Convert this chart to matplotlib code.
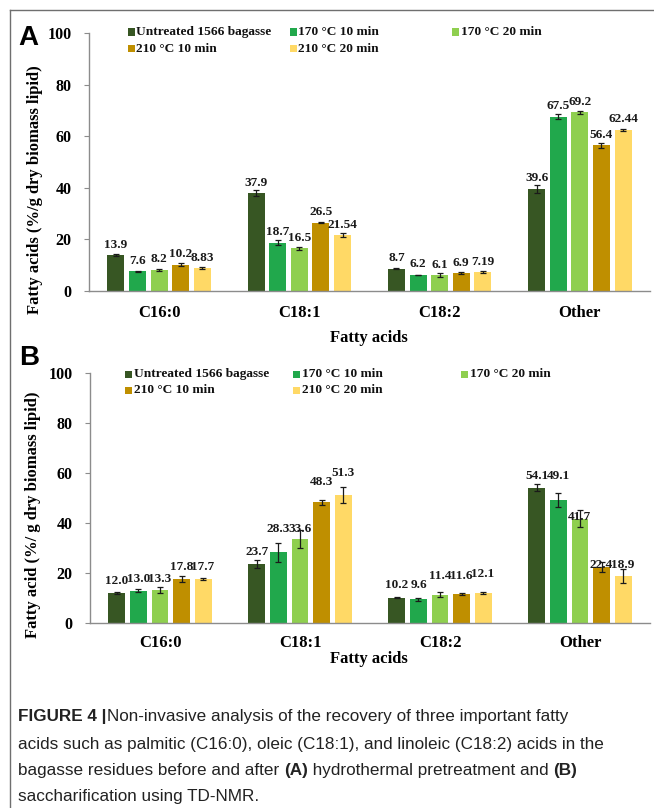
import matplotlib
matplotlib.use("Agg")
import matplotlib.pyplot as plt
from matplotlib.patches import Rectangle
from matplotlib.lines import Line2D
import numpy as np

# ---------------- data ----------------
categories = ["C16:0", "C18:1", "C18:2", "Other"]
series_names = ["Untreated 1566 bagasse", "170 \u00b0C 10 min", "170 \u00b0C 20 min",
                "210 \u00b0C 10 min", "210 \u00b0C 20 min"]
colors = ["#375623", "#21A84C", "#8FCF4F", "#BF8F00", "#FFD966"]

# Panel A (hydrothermal pretreatment)
a_untreated = [13.9, 37.9, 8.7, 39.6]
a_170_10 = [7.6, 18.7, 6.2, 67.5]
a_170_20 = [8.2, 16.5, 6.1, 69.2]
a_210_10 = [10.2, 26.5, 6.9, 56.4]
a_210_20 = [8.83, 21.54, 7.19, 62.44]
a_err_untreated = [0.3, 1.2, 0.3, 1.5]
a_err_170_10 = [0.3, 0.9, 0.15, 1.0]
a_err_170_20 = [0.4, 0.5, 0.7, 0.7]
a_err_210_10 = [0.5, 0.3, 0.4, 1.0]
a_err_210_20 = [0.4, 0.8, 0.4, 0.3]
a_lab_untreated = ["13.9", "37.9", "8.7", "39.6"]
a_lab_170_10 = ["7.6", "18.7", "6.2", "67.5"]
a_lab_170_20 = ["8.2", "16.5", "6.1", "69.2"]
a_lab_210_10 = ["10.2", "26.5", "6.9", "56.4"]
a_lab_210_20 = ["8.83", "21.54", "7.19", "62.44"]

# Panel B (saccharification)
b_untreated = [12.0, 23.7, 10.2, 54.1]
b_170_10 = [13.0, 28.3, 9.6, 49.1]
b_170_20 = [13.3, 33.6, 11.4, 41.7]
b_210_10 = [17.8, 48.3, 11.6, 22.4]
b_210_20 = [17.7, 51.3, 12.1, 18.9]
b_err_untreated = [0.4, 1.5, 0.3, 1.4]
b_err_170_10 = [0.5, 3.8, 0.6, 2.8]
b_err_170_20 = [1.2, 3.5, 1.0, 3.4]
b_err_210_10 = [1.2, 1.0, 0.5, 2.0]
b_err_210_20 = [0.5, 3.2, 0.4, 2.8]
b_lab_untreated = ["12.0", "23.7", "10.2", "54.1"]
b_lab_170_10 = ["13.0", "28.3", "9.6", "49.1"]
b_lab_170_20 = ["13.3", "33.6", "11.4", "41.7"]
b_lab_210_10 = ["17.8", "48.3", "11.6", "22.4"]
b_lab_210_20 = ["17.7", "51.3", "12.1", "18.9"]
# label heights (layout of the value labels in panel B, placed by hand in the original)
b_laby_untreated = [16.7, 28.4, 15.3, 59.0]
b_laby_170_10 = [17.7, 37.6, 15.3, 59.0]
b_laby_170_20 = [17.7, 37.6, 18.7, 42.3]
b_laby_210_10 = [22.4, 56.4, 18.7, 23.2]
b_laby_210_20 = [22.4, 60.0, 19.6, 23.2]

yticks = [0, 20, 40, 60, 80, 100]

# ---------------- figure ----------------
W, H = 654, 808
fig = plt.figure(figsize=(W / 100, H / 100), dpi=100)

SERIF = ["Liberation Serif", "DejaVu Serif"]
SANS = ["Liberation Sans", "DejaVu Sans"]
SPINE = "#8C8C8C"

# frame lines (top and left)
fig.add_artist(Line2D([10 / W, 1.0], [1 - 10 / H, 1 - 10 / H], transform=fig.transFigure,
                      color="#6f6f6f", lw=1.0))
fig.add_artist(Line2D([10 / W, 10 / W], [0.0, 1 - 10 / H], transform=fig.transFigure,
                      color="#6f6f6f", lw=1.0))


def px_axes(left, top, right, bottom):
    return fig.add_axes([left / W, 1 - bottom / H, (right - left) / W, (bottom - top) / H])


def draw_panel(ax, vals, errs, labs, laby, legend_x, legend_y, legend_dy, tick_pad):
    n = len(vals)
    x = np.arange(len(categories))
    step = 0.154
    bw = 0.121
    for i in range(n):
        xi = x + (i - (n - 1) / 2) * step
        ax.bar(xi, vals[i], width=bw, color=colors[i], edgecolor="none", zorder=2)
        ax.errorbar(xi, vals[i], yerr=errs[i], fmt="none", ecolor="#1a1a1a",
                    elinewidth=0.9, capsize=2.3, capthick=0.9, zorder=3)
        for j in range(len(categories)):
            yy = laby[i][j] if laby is not None else vals[i][j] + 4.1
            ax.text(xi[j], yy, labs[i][j], ha="center", va="center",
                    fontsize=9.5, fontweight="bold", family=SERIF, color="#1a1a1a", zorder=4)
    ax.set_xlim(-0.5, len(categories) - 0.5)
    ax.set_ylim(0, 100)
    ax.set_yticks(yticks)
    ax.set_xticks(x)
    ax.set_xticklabels(categories)
    for s in ["top", "right"]:
        ax.spines[s].set_visible(False)
    for s in ["left", "bottom"]:
        ax.spines[s].set_color(SPINE)
        ax.spines[s].set_linewidth(1.0)
    ax.tick_params(axis="y", direction="out", length=3.5, width=0.8, color=SPINE, pad=9)
    ax.tick_params(axis="x", length=0, pad=tick_pad)
    for t in ax.get_yticklabels():
        t.set_fontfamily(SERIF)
        t.set_fontweight("bold")
        t.set_fontsize(11.5)
    for t in ax.get_xticklabels():
        t.set_fontfamily(SERIF)
        t.set_fontweight("bold")
        t.set_fontsize(12)
    # legend (Excel style, equal column widths, row-major order)
    for i, name in enumerate(series_names):
        r, c = divmod(i, 3)
        mx = legend_x[c]
        my = legend_y + r * legend_dy
        fig.add_artist(Rectangle((mx / W, 1 - (my + 3.5) / H), 7 / W, 7 / H,
                                 transform=fig.transFigure, facecolor=colors[i],
                                 edgecolor="none"))
        fig.text((mx + 8.5) / W, 1 - my / H, name, ha="left", va="center",
                 fontsize=9.6, fontweight="bold", family=SERIF, color="#111111")


# Panel A
axA = px_axes(89, 33, 650, 291)
draw_panel(axA,
           [a_untreated, a_170_10, a_170_20, a_210_10, a_210_20],
           [a_err_untreated, a_err_170_10, a_err_170_20, a_err_210_10, a_err_210_20],
           [a_lab_untreated, a_lab_170_10, a_lab_170_20, a_lab_210_10, a_lab_210_20],
           None, [128, 290, 452], 32, 16.5, 10)
fig.text(28 / W, 1 - 38 / H, "A", ha="center", va="center", fontsize=20,
         fontweight="bold", family=SANS)
fig.text(35 / W, 1 - 190 / H, "Fatty acids (%/g dry biomass lipid)", rotation=90,
         ha="center", va="center", fontsize=12, fontweight="bold", family=SERIF)
fig.text(369 / W, 1 - 338 / H, "Fatty acids", ha="center", va="center", fontsize=12,
         fontweight="bold", family=SERIF)

# Panel B
axB = px_axes(90, 373, 650, 623)
draw_panel(axB,
           [b_untreated, b_170_10, b_170_20, b_210_10, b_210_20],
           [b_err_untreated, b_err_170_10, b_err_170_20, b_err_210_10, b_err_210_20],
           [b_lab_untreated, b_lab_170_10, b_lab_170_20, b_lab_210_10, b_lab_210_20],
           [b_laby_untreated, b_laby_170_10, b_laby_170_20, b_laby_210_10, b_laby_210_20],
           [125, 293, 461], 374, 16.5, 8.5)
fig.text(29 / W, 1 - 358 / H, "B", ha="center", va="center", fontsize=20,
         fontweight="bold", family=SANS)
fig.text(33 / W, 1 - 515 / H, "Fatty acid (%/ g dry biomass lipid)", rotation=90,
         ha="center", va="center", fontsize=12, fontweight="bold", family=SERIF)
fig.text(369 / W, 1 - 659 / H, "Fatty acids", ha="center", va="center", fontsize=12,
         fontweight="bold", family=SERIF)

# ---------------- caption ----------------
caption_lines = [
    [("FIGURE 4 |", "bold"), ("Non-invasive analysis of the recovery of three important fatty", "normal")],
    [("acids such as palmitic (C16:0), oleic (C18:1), and linoleic (C18:2) acids in the", "normal")],
    [("bagasse residues before and after ", "normal"), ("(A)", "bold"),
     (" hydrothermal pretreatment and ", "normal"), ("(B)", "bold")],
    [("saccharification using TD-NMR.", "normal")],
]
caption_y = [717, 744, 771, 797]
renderer = fig.canvas.get_renderer()
for segs, yy in zip(caption_lines, caption_y):
    xpos = 18.0
    for txt, wt in segs:
        t = fig.text(xpos / W, 1 - yy / H, txt, ha="left", va="center", fontsize=12.3,
                     fontweight=wt, family=SANS, color="#222222")
        bb = t.get_window_extent(renderer=renderer)
        xpos += bb.width
        if txt.endswith("|"):
            xpos += 1.0

fig.savefig("out.png", dpi=100)
